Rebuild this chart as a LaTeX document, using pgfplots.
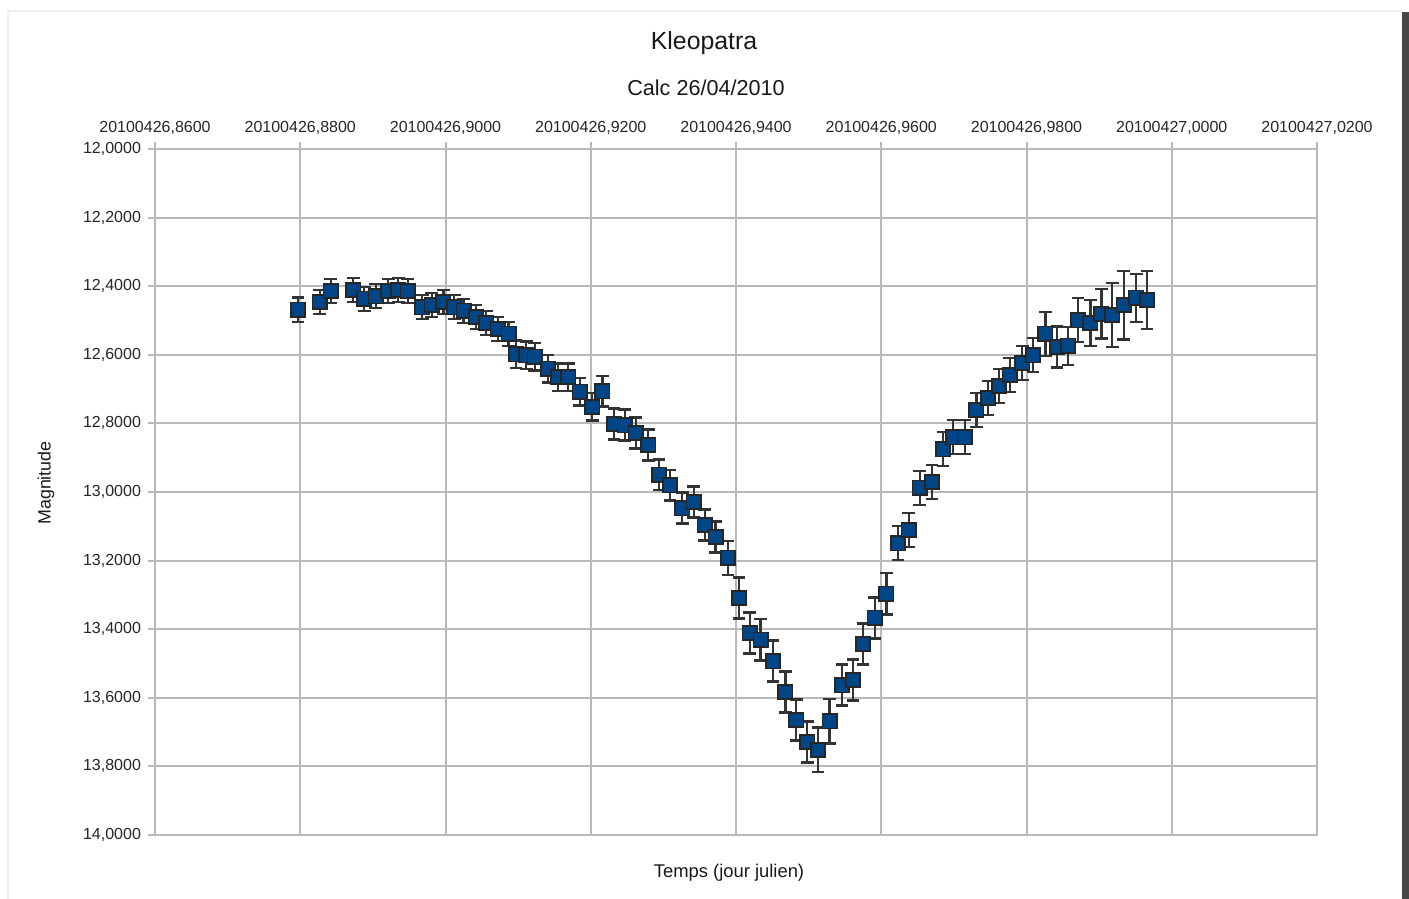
\documentclass[border=0pt]{standalone}
\usepackage{pgfplots}
\pgfplotsset{compat=1.18}
\usepackage{pgfplotstable}
\usepackage{fontspec}
\setmainfont{Liberation Sans}
\definecolor{lo1}{RGB}{0,69,134}
\definecolor{gridc}{RGB}{185,185,185}
\pgfplotstableread{
x y e
0.8797 12.469 0.036
0.8827 12.446 0.035
0.8842 12.414 0.035
0.8873 12.411 0.035
0.8888 12.437 0.035
0.8904 12.429 0.035
0.8921 12.414 0.035
0.8935 12.411 0.035
0.8948 12.414 0.035
0.8968 12.461 0.035
0.8981 12.455 0.035
0.8997 12.446 0.035
0.9012 12.461 0.035
0.9025 12.472 0.035
0.9042 12.490 0.035
0.9056 12.507 0.035
0.9072 12.525 0.035
0.9087 12.539 0.035
0.9097 12.598 0.040
0.9111 12.601 0.040
0.9123 12.606 0.040
0.9141 12.641 0.040
0.9155 12.665 0.040
0.9169 12.665 0.040
0.9185 12.708 0.040
0.9202 12.752 0.040
0.9216 12.706 0.045
0.9232 12.802 0.045
0.9247 12.805 0.045
0.9262 12.828 0.045
0.9279 12.863 0.045
0.9294 12.950 0.045
0.9309 12.980 0.045
0.9326 13.047 0.045
0.9342 13.029 0.045
0.9357 13.096 0.045
0.9372 13.131 0.045
0.9389 13.192 0.050
0.9404 13.309 0.060
0.9419 13.411 0.060
0.9434 13.431 0.060
0.9451 13.493 0.060
0.9468 13.583 0.060
0.9483 13.665 0.060
0.9498 13.729 0.060
0.9513 13.752 0.065
0.9529 13.668 0.065
0.9546 13.563 0.060
0.9561 13.548 0.060
0.9575 13.443 0.060
0.9591 13.367 0.060
0.9607 13.297 0.060
0.9623 13.149 0.050
0.9638 13.111 0.050
0.9653 12.988 0.050
0.9670 12.971 0.050
0.9685 12.875 0.050
0.9699 12.840 0.050
0.9715 12.840 0.050
0.9731 12.761 0.050
0.9747 12.726 0.050
0.9762 12.691 0.050
0.9777 12.659 0.050
0.9794 12.624 0.050
0.9809 12.601 0.050
0.9826 12.539 0.064
0.9842 12.577 0.060
0.9857 12.574 0.055
0.9871 12.499 0.064
0.9888 12.507 0.067
0.9903 12.481 0.072
0.9918 12.484 0.093
0.9934 12.455 0.100
0.9951 12.434 0.070
0.9966 12.440 0.085
}\datatable
\begin{document}
\begin{tikzpicture}
\useasboundingbox (0,0) rectangle (704.5pt,449.5pt);
\fill[white] (0,0) rectangle (704.5pt,449.5pt);
\draw[black!6, line width=0.8pt] (4pt,0) -- (4pt,444pt) -- (701pt,444pt);
\fill[black!72] (701pt,0) rectangle (704.5pt,443.5pt);
\begin{axis}[
  at={(77.5pt,32pt)}, anchor=south west,
  scale only axis, width=581pt, height=343pt,
  xmin=0.86, xmax=1.02, ymin=12, ymax=14, y dir=reverse,
  xtick={0.86,0.88,0.90,0.92,0.94,0.96,0.98,1.00,1.02},
  xticklabels={20100426{,}8600,20100426{,}8800,20100426{,}9000,20100426{,}9200,20100426{,}9400,20100426{,}9600,20100426{,}9800,20100427{,}0000,20100427{,}0200},
  xticklabel pos=right, xtick pos=right,
  ytick={12,12.2,12.4,12.6,12.8,13,13.2,13.4,13.6,13.8,14},
  ytick pos=left,
  yticklabel style={/pgf/number format/fixed, /pgf/number format/fixed zerofill, /pgf/number format/precision=4, /pgf/number format/use comma, /pgf/number format/1000 sep={}},
  /pgf/number format/assume math mode=true,
  grid=major,
  major grid style={gridc, line width=1pt},
  axis line style={gridc, line width=1pt},
  every tick/.style={gridc, line width=1pt},
  tick align=outside, major tick length=3.5pt,
  tick label style={font=\fontsize{8}{9}\selectfont, text=black!85},
  clip=false,
]
\addplot+[only marks, mark=square*, mark size=3.6pt,
  mark options={fill=lo1, draw=black!85, line width=0.8pt, rounded corners=1.2pt},
  error bars/.cd, y dir=both, y explicit,
  error bar style={line width=1.2pt, black!80},
  error mark options={rotate=90, mark size=3.2pt, line width=1.2pt, black!80}]
  table[x=x, y=y, y error=e]{\datatable};
\end{axis}
\node[font=\fontsize{12.4}{14}\selectfont, text=black!90] at (352pt,428pt) {Kleopatra};
\node[font=\fontsize{10.8}{12}\selectfont, text=black!90] at (353pt,405.5pt) {Calc 26/04/2010};
\node[font=\fontsize{9.2}{11}\selectfont, text=black!90] at (364.5pt,13pt) {Temps (jour julien)};
\node[font=\fontsize{8.9}{10}\selectfont, text=black!90, rotate=90] at (23pt,208pt) {Magnitude};
\end{tikzpicture}
\end{document}
